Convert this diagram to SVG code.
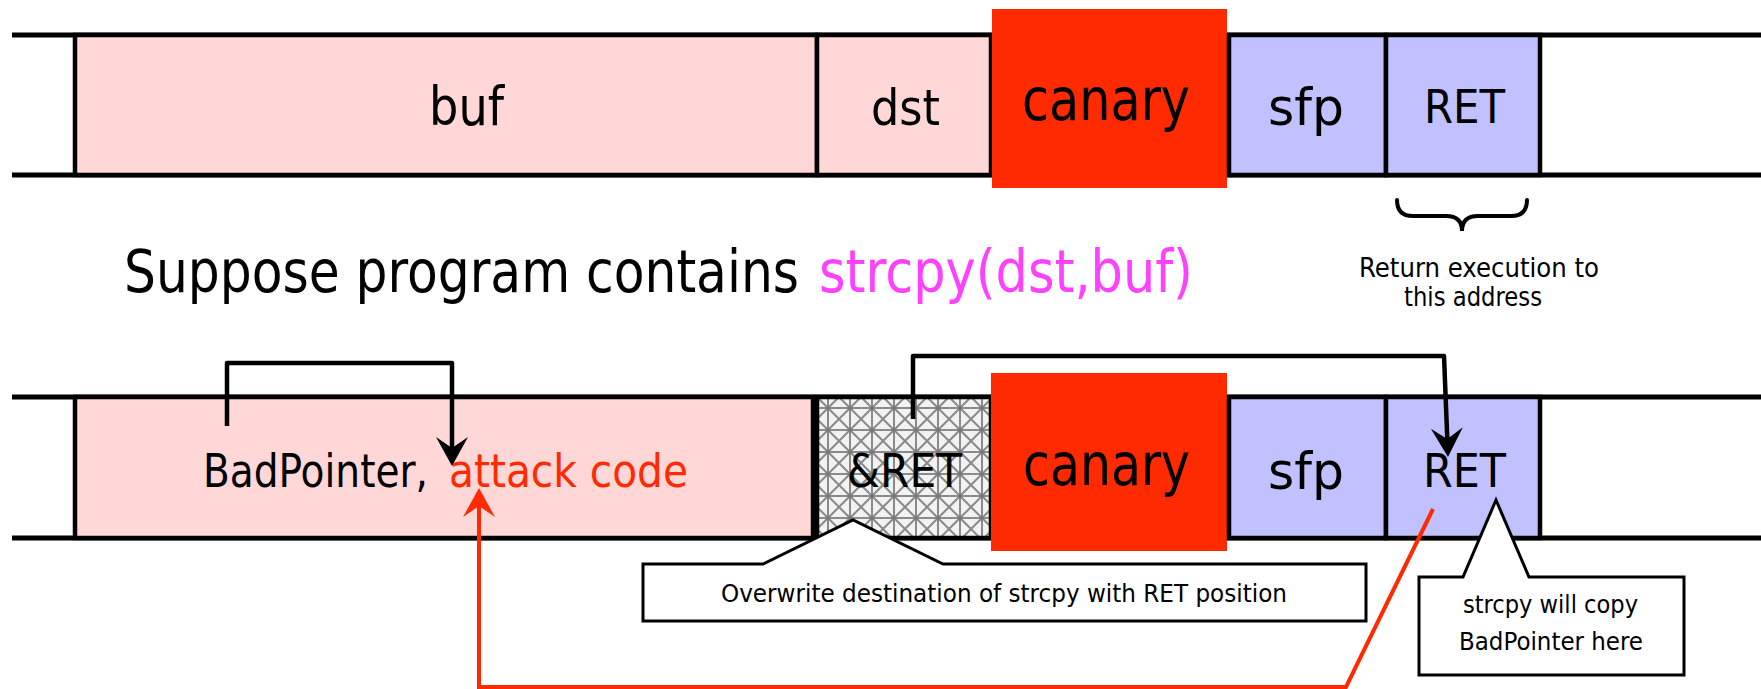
<svg xmlns="http://www.w3.org/2000/svg" width="1761" height="689" viewBox="0 0 1761 689">
<style>
text{font-family:"DejaVu Sans Condensed","DejaVu Sans","Liberation Sans",sans-serif;fill:#000}
.band{stroke:#000;stroke-width:5;fill:none}
.pink{fill:#ffd7d7;stroke:#000;stroke-width:4.5}
.blue{fill:#c1c1ff;stroke:#000;stroke-width:4.5}
.canary{fill:#ff2a00}
.lbl{font-size:46px}
.big{font-size:58px}
.small{font-size:24px}
.red{fill:#ff2a00}
.mag{fill:#ff40ff}
.conn{fill:none;stroke:#000;stroke-width:4.5;stroke-linejoin:round}
.rconn{fill:none;stroke:#ff2a00;stroke-width:4;stroke-linejoin:miter}
.call{fill:#fff;stroke:#000;stroke-width:3}
</style>
<defs>
<pattern id="hatch" width="22" height="22" patternUnits="userSpaceOnUse" x="817" y="397">
<rect width="22" height="22" fill="#f2f2f2"/>
<path d="M0,0 L22,22 M22,0 L0,22 M11,0 V22 M0,11 H22" stroke="#8a8a8a" stroke-width="2" fill="none"/>
<circle cx="11" cy="11" r="2" fill="#777"/>
</pattern>
<marker id="ahBlack" markerUnits="userSpaceOnUse" viewBox="-12 -17 31 34" markerWidth="31" markerHeight="34" refX="0" refY="0" orient="auto">
<path d="M18,0 L-11,-16 L0,0 L-11,16 Z" fill="#000"/>
</marker>
<marker id="ahRed" markerUnits="userSpaceOnUse" viewBox="-12 -17 31 34" markerWidth="31" markerHeight="34" refX="0" refY="0" orient="auto">
<path d="M18,0 L-11,-16 L0,0 L-11,16 Z" fill="#ff2a00"/>
</marker>
</defs>
<rect width="1761" height="689" fill="#fff"/>

<g id="top-band">
<line class="band" x1="12" y1="35" x2="1761" y2="35"/>
<line class="band" x1="12" y1="175" x2="1761" y2="175"/>
<g id="top-buf"><rect class="pink" x="75" y="35" width="742" height="140"/><text class="lbl" x="429" y="125" textLength="75" lengthAdjust="spacingAndGlyphs" style="font-size:54px">buf</text></g>
<g id="top-dst"><rect class="pink" x="817" y="35" width="174" height="140"/><text class="lbl" x="871" y="125" textLength="69" lengthAdjust="spacingAndGlyphs" style="font-size:50px">dst</text></g>
<g id="top-canary"><rect class="canary" x="992" y="9" width="235" height="179"/><text class="big" x="1022" y="120" textLength="168" lengthAdjust="spacingAndGlyphs">canary</text></g>
<g id="top-sfp"><rect class="blue" x="1229" y="35" width="157" height="140"/><text class="lbl" x="1268" y="125" textLength="76" lengthAdjust="spacingAndGlyphs" style="font-size:52px">sfp</text></g>
<g id="top-ret"><rect class="blue" x="1386" y="35" width="154" height="140"/><text class="lbl" x="1424" y="123" textLength="81" lengthAdjust="spacingAndGlyphs">RET</text></g>
</g>

<g id="ret-note">
<path d="M1397,200 Q1397,216 1413,216 L1446,216 Q1462,216 1462,231 Q1462,216 1478,216 L1511,216 Q1527,216 1527,200" fill="none" stroke="#000" stroke-width="4" stroke-linecap="round"/>
<text class="small" x="1359" y="277" textLength="240" lengthAdjust="spacingAndGlyphs" style="font-size:26px">Return execution to</text>
<text class="small" x="1404" y="306" textLength="138" lengthAdjust="spacingAndGlyphs" style="font-size:26px">this address</text>
</g>

<g id="caption">
<text class="big" x="124" y="292" textLength="675" lengthAdjust="spacingAndGlyphs">Suppose program contains</text>
<text class="big mag" x="819" y="292" textLength="374" lengthAdjust="spacingAndGlyphs">strcpy(dst,buf)</text>
</g>

<g id="bottom-band">
<line class="band" x1="12" y1="397" x2="1761" y2="397"/>
<line class="band" x1="12" y1="538" x2="1761" y2="538"/>
<g id="bot-buf"><rect class="pink" x="75" y="397" width="738" height="141"/>
<text class="lbl" x="203" y="487" textLength="225" lengthAdjust="spacingAndGlyphs">BadPointer,</text>
<text class="lbl red" x="449" y="487" textLength="239" lengthAdjust="spacingAndGlyphs">attack code</text></g>
<g id="bot-ampret"><rect x="817" y="397" width="174" height="141" fill="url(#hatch)" stroke="#000" stroke-width="4.5"/><text class="lbl" x="847" y="487" textLength="115" lengthAdjust="spacingAndGlyphs">&amp;RET</text></g>
<g id="bot-canary"><rect class="canary" x="991" y="373" width="236" height="178"/><text class="big" x="1023" y="485" textLength="167" lengthAdjust="spacingAndGlyphs">canary</text></g>
<g id="bot-sfp"><rect class="blue" x="1229" y="397" width="157" height="141"/><text class="lbl" x="1268" y="489" textLength="76" lengthAdjust="spacingAndGlyphs" style="font-size:52px">sfp</text></g>
<g id="bot-ret"><rect class="blue" x="1386" y="397" width="154" height="141"/><text class="lbl" x="1423" y="487" textLength="83" lengthAdjust="spacingAndGlyphs">RET</text></g>
</g>

<g id="connectors">
<path class="conn" d="M227,426 V363 H452 V448" marker-end="url(#ahBlack)"/>
<path class="conn" d="M913,419 V356 H1444 L1447.3,439" marker-end="url(#ahBlack)"/>
<path class="rconn" d="M1433,509 L1346,687 H479 V506" marker-end="url(#ahRed)"/>
</g>

<g id="callout-overwrite">
<path class="call" d="M643,564 H763 L853,520 L943,564 H1366 V621 H643 Z"/>
<text class="small" x="721" y="602" textLength="566" lengthAdjust="spacingAndGlyphs" style="font-size:25px">Overwrite destination of strcpy with RET position</text>
</g>

<g id="callout-copy">
<path class="call" d="M1419,577 H1463 L1496,500 L1529,577 H1684 V675 H1419 Z"/>
<text class="small" x="1463" y="613" textLength="175" lengthAdjust="spacingAndGlyphs">strcpy will copy</text>
<text class="small" x="1459" y="650" textLength="184" lengthAdjust="spacingAndGlyphs">BadPointer here</text>
</g>
</svg>
